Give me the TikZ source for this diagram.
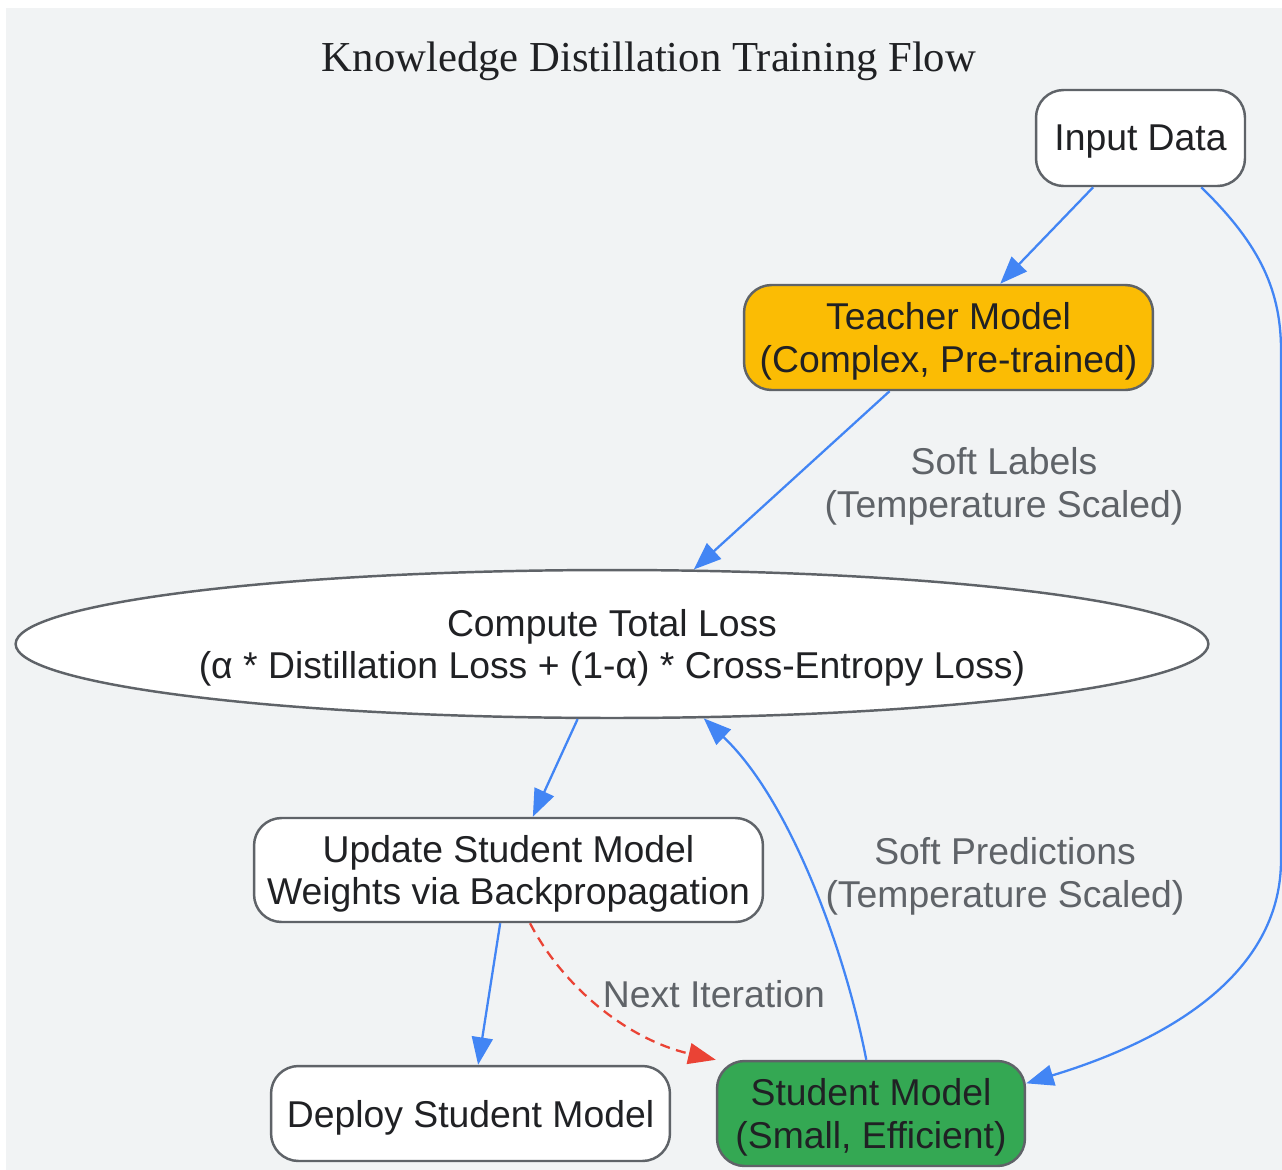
\documentclass[tikz,border=0pt]{standalone}
\usepackage{fontspec}
\setmainfont{Liberation Sans}
\newfontfamily\titlefont{Liberation Serif}
\usetikzlibrary{shapes.geometric,arrows.meta}
\definecolor{pagebg}{RGB}{241,243,244}
\definecolor{boxbdr}{RGB}{95,99,104}
\definecolor{hdrclr}{RGB}{32,33,36}
\definecolor{notetext}{RGB}{95,99,104}
\definecolor{flowblue}{RGB}{66,133,244}
\definecolor{loopred}{RGB}{234,67,53}
\definecolor{teachfill}{RGB}{251,188,4}
\definecolor{studfill}{RGB}{52,168,83}
\tikzset{
  blk/.style={rectangle,rounded corners=0.55cm,draw=boxbdr,fill=white,
    line width=1.4pt,font=\fontsize{21.25}{24}\selectfont,align=center,
    text=hdrclr,inner sep=0pt,text depth=0pt},
  tblk/.style={blk,fill=teachfill},
  sblk/.style={blk,fill=studfill},
  lossblk/.style={ellipse,draw=boxbdr,fill=white,line width=1.4pt,
    font=\fontsize{21.25}{24}\selectfont,align=center,text=hdrclr,
    inner sep=0pt,text depth=0pt},
  arr/.style={-{Triangle[length=0.55cm,width=0.42cm]},line width=1.3pt,
    color=flowblue},
  darr/.style={-{Triangle[length=0.55cm,width=0.42cm]},line width=1.3pt,
    dash pattern=on 0.2cm off 0.13cm,color=loopred},
  lbl/.style={font=\fontsize{21.25}{24}\selectfont,color=notetext,
    align=center,text depth=0pt},
  ttl/.style={font=\titlefont\fontsize{24.3}{26}\selectfont,text=hdrclr,
    text depth=0pt},
}

\begin{document}
\begin{tikzpicture}[x=0.02cm,y=-0.02cm]

  \useasboundingbox (0,0) rectangle (1282,1170);
  \fill[pagebg] (6,8) rectangle (1282,1170);

  \node[ttl] (title) at (649,57) {Knowledge Distillation Training Flow};

  \node[blk,minimum width=4.18cm,minimum height=1.92cm] (input)
    at (1140.5,138) {Input Data};
  \node[tblk,minimum width=8.18cm,minimum height=2.1cm] (teacher)
    at (948.5,337.5) {Teacher Model\\(Complex, Pre-trained)};
  \node[lossblk,minimum width=23.86cm,minimum height=2.96cm] (loss)
    at (612,644) {Compute Total Loss\\(α * Distillation Loss + (1-α) * Cross-Entropy Loss)};
  \node[blk,minimum width=10.18cm,minimum height=2.08cm] (update)
    at (508.5,870) {Update Student Model\\Weights via Backpropagation};
  \node[blk,minimum width=7.98cm,minimum height=1.9cm] (deploy)
    at (470.5,1113.5) {Deploy Student Model};
  \node[sblk,minimum width=6.16cm,minimum height=2.1cm] (student)
    at (871,1113.5) {Student Model\\(Small, Efficient)};

  % edge labels
  \node[lbl] (softlbl) at (1004,482.5) {Soft Labels\\(Temperature Scaled)};
  \node[lbl] (softpred) at (1005,872.5) {Soft Predictions\\(Temperature Scaled)};
  \node[lbl] (nextit) at (714,994) {Next Iteration};

  \draw[arr] (input) -- (teacher);
  \draw[arr] (input.-39) .. controls (1255,240) and (1281,285) .. (1281,350)
    -- (1281,860) .. controls (1281,965) and (1185,1035) .. (student.11);
  \draw[arr] (teacher) -- (loss);
  \draw[arr] (loss) -- (update);
  \draw[arr] (update) -- (deploy);
  \draw[darr] (update.-68) .. controls (565,990) and (630,1040) .. (student.north west);
  \draw[arr] (student.95) .. controls (845,950) and (790,800) .. (loss.-39);

\end{tikzpicture}
\end{document}
